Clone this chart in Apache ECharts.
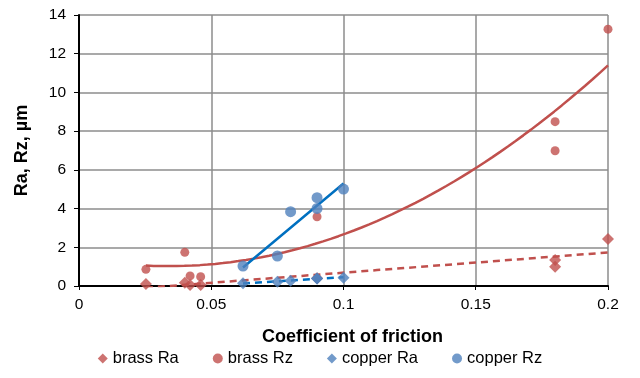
<!DOCTYPE html>
<html>
<head>
<meta charset="utf-8">
<script src="https://cdn.jsdelivr.net/npm/echarts@6/dist/echarts.min.js"></script>
<style>
  html, body { margin: 0; padding: 0; background: #fff; }
  #chart { width: 640px; height: 378px; }
</style>
</head>
<body>
<div id="chart"></div>
<script>
// measured points (x = coefficient of friction, y = roughness in µm)
const brassX = [0.0253, 0.040, 0.042, 0.046, 0.090, 0.180, 0.180, 0.200]
const brassRa = [0.10, 0.17, 0.05, 0.05, 0.40, 1.34, 1.00, 2.43]
const brassRz = [0.86, 1.74, 0.52, 0.48, 3.58, 8.49, 6.99, 13.27]

const copperX = [0.062, 0.075, 0.080, 0.090, 0.090, 0.100]
const copperRa = [0.14, 0.22, 0.27, 0.39, 0.39, 0.43]
const copperRz = [1.03, 1.55, 3.84, 4.56, 4.01, 5.01]

const RED = '#C0504D'
const BLUE = '#4F81BD'
const BLUE_LINE = '#0070C0'
const FONT = 'Liberation Sans, Arial, sans-serif'

const pairs = (xs, ys) => xs.map((x, i) => [x, ys[i]])

// least squares fit like the excel trendlines
function linFit(xs, ys) {
	const n = xs.length
	const mx = xs.reduce((a, b) => a + b, 0) / n
	const my = ys.reduce((a, b) => a + b, 0) / n
	let sxy = 0, sxx = 0
	xs.forEach((x, i) => { sxy += (x - mx) * (ys[i] - my); sxx += (x - mx) * (x - mx) })
	const b = sxy / sxx
	return x => my + b * (x - mx)
}

function polyFit2(xs, ys) {
	// normal equations for y = c0 + c1 x + c2 x^2
	const s = [0, 0, 0, 0, 0], t = [0, 0, 0]
	xs.forEach((x, i) => {
		for (let k = 0; k < 5; k++) s[k] += Math.pow(x, k)
		for (let k = 0; k < 3; k++) t[k] += ys[i] * Math.pow(x, k)
	})
	const m = [[s[0], s[1], s[2], t[0]], [s[1], s[2], s[3], t[1]], [s[2], s[3], s[4], t[2]]]
	for (let c = 0; c < 3; c++) {
		for (let r = c + 1; r < 3; r++) {
			const f = m[r][c] / m[c][c]
			for (let k = c; k < 4; k++) m[r][k] -= f * m[c][k]
		}
	}
	const co = [0, 0, 0]
	for (let r = 2; r >= 0; r--) {
		let v = m[r][3]
		for (let k = r + 1; k < 3; k++) v -= m[r][k] * co[k]
		co[r] = v / m[r][r]
	}
	return x => co[0] + co[1] * x + co[2] * x * x
}

function curve(fn, xs, steps) {
	const lo = Math.min(...xs), hi = Math.max(...xs)
	const out = []
	for (let i = 0; i <= steps; i++) {
		const x = lo + (hi - lo) * i / steps
		out.push([x, fn(x)])
	}
	return out
}

const chart = echarts.init(document.getElementById('chart'))

const trend = (data, color, dashed) => ({
	type: 'line',
	data: data,
	showSymbol: false,
	silent: true,
	legendHoverLink: false,
	lineStyle: { color: color, width: 2.5, type: dashed ? [7, 5] : 'solid' },
	z: 1
})

const option = {
	animation: false,
	grid: { left: 79, right: 32, top: 15, bottom: 92 },
	xAxis: {
		type: 'value',
		min: 0,
		max: 0.2,
		interval: 0.05,
		name: 'Coefficient of friction',
		nameLocation: 'middle',
		nameGap: 42,
		nameTextStyle: {
			fontFamily: FONT, fontSize: 18, fontWeight: 'bold', color: '#000',
			padding: [0, 0, 0, 18]
		},
		axisLine: { lineStyle: { color: '#000', width: 2 } },
		axisTick: { show: true, length: 4, lineStyle: { color: '#000' } },
		axisLabel: {
			fontFamily: FONT, fontSize: 15.5, color: '#000', margin: 11,
			formatter: v => String(+v.toFixed(2))
		},
		splitLine: { show: true, lineStyle: { color: '#8c8c8c', width: 1.5 } }
	},
	yAxis: {
		type: 'value',
		min: 0,
		max: 14,
		interval: 2,
		name: 'Ra, Rz, µm',
		nameLocation: 'middle',
		nameGap: 48,
		nameTextStyle: { fontFamily: FONT, fontSize: 18, fontWeight: 'bold', color: '#000' },
		axisLine: { show: true, lineStyle: { color: '#000', width: 2 } },
		axisTick: { show: true, length: 5, lineStyle: { color: '#000' } },
		axisLabel: { fontFamily: FONT, fontSize: 15.5, color: '#000', margin: 13 },
		splitLine: { show: true, lineStyle: { color: '#8c8c8c', width: 1.5 } }
	},
	legend: {
		bottom: 6,
		left: 'center',
		itemGap: 34,
		itemWidth: 10,
		itemHeight: 10,
		textStyle: { fontFamily: FONT, fontSize: 16.5, color: '#000' },
		data: [
			{ name: 'brass Ra', icon: 'diamond' },
			{ name: 'brass Rz', icon: 'circle' },
			{ name: 'copper Ra', icon: 'diamond' },
			{ name: 'copper Rz', icon: 'circle' }
		]
	},
	series: [
		trend(curve(linFit(brassX, brassRa), brassX, 2), RED, true),
		trend(curve(polyFit2(brassX, brassRz), brassX, 60), RED, false),
		trend(curve(linFit(copperX, copperRa), copperX, 2), BLUE_LINE, true),
		trend(curve(linFit(copperX, copperRz), copperX, 2), BLUE_LINE, false),
		{
			name: 'brass Ra', type: 'scatter', symbol: 'diamond', symbolSize: 12,
			itemStyle: { color: RED }, data: pairs(brassX, brassRa), z: 3
		},
		{
			name: 'brass Rz', type: 'scatter', symbol: 'circle', symbolSize: 9,
			itemStyle: { color: RED }, data: pairs(brassX, brassRz), z: 3
		},
		{
			name: 'copper Ra', type: 'scatter', symbol: 'diamond', symbolSize: 12,
			itemStyle: { color: BLUE }, data: pairs(copperX, copperRa), z: 4
		},
		{
			name: 'copper Rz', type: 'scatter', symbol: 'circle', symbolSize: 11,
			itemStyle: { color: BLUE }, data: pairs(copperX, copperRz), z: 4
		}
	]
}

chart.setOption(option)
</script>
</body>
</html>
